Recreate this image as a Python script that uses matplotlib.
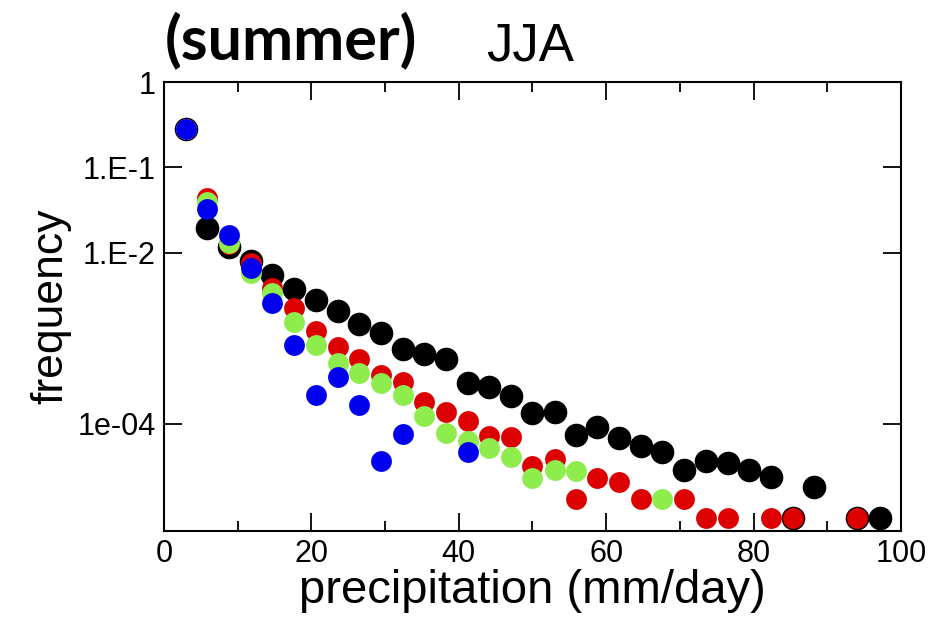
import matplotlib.pyplot as plt
from matplotlib.ticker import FixedLocator, MultipleLocator, NullLocator

# bin centres (mm/day) and the frequency in each bin, per series
x_black = [3.0, 5.9, 8.8, 11.8, 14.7, 17.7, 20.6, 23.6, 26.5, 29.4, 32.4, 35.3, 38.3,
           41.2, 44.1, 47.1, 50.0, 53.0, 55.9, 58.8, 61.8, 64.7, 67.6, 70.6, 73.5,
           76.5, 79.4, 82.4, 85.3, 88.2, 94.1, 97.1]
f_black = [0.282, 0.0196, 0.0118, 0.00806, 0.00553, 0.00379, 0.00282, 0.00210,
           0.00148, 0.00116, 7.54e-4, 6.59e-4, 5.76e-4, 3.02e-4, 2.71e-4, 2.12e-4,
           1.34e-4, 1.38e-4, 7.43e-5, 9.22e-5, 6.86e-5, 5.53e-5, 4.71e-5, 2.90e-5,
           3.69e-5, 3.50e-5, 2.90e-5, 2.40e-5, 7.96e-6, 1.83e-5, 7.96e-6, 7.96e-6]

x_red = [3.0, 5.9, 8.8, 11.8, 14.7, 17.7, 20.6, 23.6, 26.5, 29.4, 32.4, 35.3, 38.3,
         41.2, 44.1, 47.1, 50.0, 53.0, 55.9, 58.8, 61.8, 64.7, 70.6, 73.5, 76.5,
         82.4, 85.3, 94.1]
f_red = [0.282, 0.0440, 0.0127, 0.00764, 0.00390, 0.00227, 0.00122, 7.96e-4,
         5.76e-4, 3.74e-4, 3.10e-4, 1.81e-4, 1.38e-4, 1.08e-4, 7.24e-5, 7.05e-5,
         3.23e-5, 3.90e-5, 1.33e-5, 2.34e-5, 2.10e-5, 1.33e-5, 1.33e-5, 7.96e-6,
         7.96e-6, 7.96e-6, 7.96e-6, 7.96e-6]

x_green = [3.0, 5.9, 8.8, 11.8, 14.7, 17.7, 20.6, 23.6, 26.5, 29.4, 32.4, 35.3, 38.3,
           41.2, 44.1, 47.1, 50.0, 53.0, 55.9, 67.6]
f_green = [0.282, 0.0395, 0.0131, 0.00584, 0.00341, 0.00156, 8.39e-4, 5.17e-4,
           3.95e-4, 3.02e-4, 2.18e-4, 1.24e-4, 7.85e-5, 6.33e-5, 5.24e-5, 4.11e-5,
           2.34e-5, 2.90e-5, 2.82e-5, 1.33e-5]

x_blue = [3.0, 5.9, 8.8, 11.8, 14.7, 17.7, 20.6, 23.6, 26.5, 29.4, 32.4, 41.2]
f_blue = [0.282, 0.0327, 0.0162, 0.00668, 0.00260, 8.39e-4, 2.18e-4, 3.55e-4,
          1.67e-4, 3.69e-5, 7.64e-5, 4.71e-5]

plt.rcParams['font.family'] = ['Liberation Sans', 'DejaVu Sans']

fig = plt.figure(figsize=(9.3, 6.18), dpi=100)
ax = fig.add_axes([0.1763, 0.1408, 0.7925, 0.7265])

ax.plot(x_black, f_black, 'o', color='black', ms=17, mec='black', mew=0)
ax.plot(x_red, f_red, 'o', color='#dd0000', ms=15, mew=0)
ax.plot(x_green, f_green, 'o', color='#8eec4c', ms=15, mew=0)
ax.plot(x_blue, f_blue, 'o', color='#0000ee', ms=15, mew=0)

ax.set_yscale('log')
ax.set_xlim(0, 100)
ax.set_ylim(5.6e-6, 1)

ax.xaxis.set_major_locator(MultipleLocator(20))
ax.xaxis.set_minor_locator(MultipleLocator(10))
ax.yaxis.set_major_locator(FixedLocator([1, 0.1, 0.01, 1e-4]))
ax.yaxis.set_minor_locator(NullLocator())
ax.set_yticklabels(['1', '1.E-1', '1.E-2', '1e-04'])

ax.tick_params(which='both', direction='in', top=True, right=True, width=1.3)
ax.tick_params(which='major', length=13, labelsize=22, pad=6)
ax.tick_params(which='minor', length=7)
for s in ax.spines.values():
    s.set_linewidth(1.5)

ax.set_xlabel('precipitation (mm/day)', fontsize=34, labelpad=0)
ax.set_ylabel('frequency', fontsize=32, labelpad=4)

fig.text(0.177, 0.935, '(summer)', fontsize=44, fontweight='bold',
         family=['Lato', 'DejaVu Sans'], va='center', ha='left')
fig.text(0.523, 0.925, 'JJA', fontsize=38, va='center', ha='left')

fig.savefig('out.png', dpi=100)
